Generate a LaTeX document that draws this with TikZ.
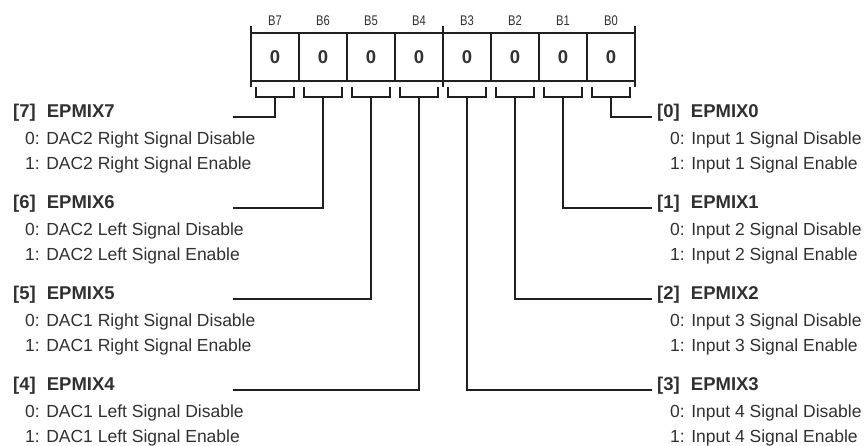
\documentclass[tikz,border=0pt]{standalone}
\usepackage{fontspec}
\setmainfont{Liberation Sans}
\newfontfamily\narrowfont{Liberation Sans}[FakeStretch=0.8]
\definecolor{linec}{HTML}{202020}
\definecolor{textc}{HTML}{303030}
\begin{document}
\begin{tikzpicture}[x=1pt,y=-1pt,
  cell/.style={draw=linec, line width=1.2pt, minimum width=48pt, minimum height=48pt,
    inner sep=0pt, outer sep=0pt, anchor=north west,
    font=\fontsize{18.5}{20}\selectfont\bfseries, text=textc},
  bitlab/.style={font=\narrowfont\fontsize{14}{16}\selectfont, text=textc, anchor=base, inner sep=0pt},
  head/.style={font=\fontsize{18.5}{20}\selectfont\bfseries, text=textc, anchor=base west, inner sep=0pt},
  desc/.style={font=\fontsize{17.5}{20}\selectfont, text=textc, anchor=base west, inner sep=0pt},
  wire/.style={draw=linec, line width=1.2pt},
]
\useasboundingbox (0,0) rectangle (864,445);

% register cells and bit labels
\foreach \i in {0,...,7} {
  \pgfmathtruncatemacro\b{7-\i}
  \node[cell] (c\b) at ({251+48*\i},33) {0};
  \node[bitlab] (l\b) at ({275+48*\i},25) {B\b};
}

% ticks
\draw[wire] (c7.north west) -- ++(0,-7);
\draw[wire] (c7.south west) -- ++(0,6);
\draw[wire] (c4.north east) -- ++(0,-7);
\draw[wire] (c4.south east) -- ++(0,6);
\draw[wire] (c0.north east) -- ++(0,-7);
\draw[wire] (c0.south east) -- ++(0,6);

% brackets
\foreach \i in {0,...,7} {
  \pgfmathtruncatemacro\b{7-\i}
  \draw[wire] ({251+48*\i+5},87) -- ({251+48*\i+5},97) -- ({251+48*\i+43},97) -- ({251+48*\i+43},87);
  \coordinate (s\b) at ({275+48*\i},97);
}

% left descriptions
\node[head] (h7) at (13,117) {[7]\hspace{0.6em}EPMIX7};
\node[desc] (d70) at (25,144) {0: DAC2 Right Signal Disable};
\node[desc] (d71) at (25,169) {1: DAC2 Right Signal Enable};
\node[head] (h6) at (13,208) {[6]\hspace{0.6em}EPMIX6};
\node[desc] (d60) at (25,235) {0: DAC2 Left Signal Disable};
\node[desc] (d61) at (25,260) {1: DAC2 Left Signal Enable};
\node[head] (h5) at (13,299) {[5]\hspace{0.6em}EPMIX5};
\node[desc] (d50) at (25,326) {0: DAC1 Right Signal Disable};
\node[desc] (d51) at (25,351) {1: DAC1 Right Signal Enable};
\node[head] (h4) at (13,390) {[4]\hspace{0.6em}EPMIX4};
\node[desc] (d40) at (25,417) {0: DAC1 Left Signal Disable};
\node[desc] (d41) at (25,442) {1: DAC1 Left Signal Enable};

% right descriptions
\node[head] (h0) at (657,117) {[0]\hspace{0.6em}EPMIX0};
\node[desc] (d00) at (670,144) {0: Input 1 Signal Disable};
\node[desc] (d01) at (670,169) {1: Input 1 Signal Enable};
\node[head] (h1) at (657,208) {[1]\hspace{0.6em}EPMIX1};
\node[desc] (d10) at (670,235) {0: Input 2 Signal Disable};
\node[desc] (d11) at (670,260) {1: Input 2 Signal Enable};
\node[head] (h2) at (657,299) {[2]\hspace{0.6em}EPMIX2};
\node[desc] (d20) at (670,326) {0: Input 3 Signal Disable};
\node[desc] (d21) at (670,351) {1: Input 3 Signal Enable};
\node[head] (h3) at (657,390) {[3]\hspace{0.6em}EPMIX3};
\node[desc] (d30) at (670,417) {0: Input 4 Signal Disable};
\node[desc] (d31) at (670,442) {1: Input 4 Signal Enable};

% connector ends
\coordinate (e7) at (233,117);
\coordinate (e6) at (233,208);
\coordinate (e5) at (233,299);
\coordinate (e4) at (233,390);
\coordinate (e0) at (652,117);
\coordinate (e1) at (652,208);
\coordinate (e2) at (652,299);
\coordinate (e3) at (652,390);

\foreach \b in {0,...,7} {
  \draw[wire] (s\b) |- (e\b);
}
\end{tikzpicture}
\end{document}
